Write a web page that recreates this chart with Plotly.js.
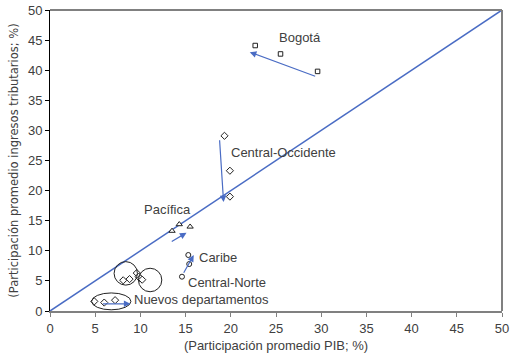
<!DOCTYPE html>
<html>
<head>
<meta charset="utf-8">
<script src="https://cdn.plot.ly/plotly-3.0.1.min.js"></script>
<style>html,body{margin:0;padding:0;background:#fff;}#chart{width:518px;height:359px;}</style>
</head>
<body>
<div id="chart"></div>
<script>
// Data
var bogotaX = [22.7, 25.5, 29.6];
var bogotaY = [44.1, 42.7, 39.8];
var centralOccX = [19.3, 19.9, 19.9];
var centralOccY = [29.1, 23.3, 19.0];
var pacificaX = [13.5, 14.3, 15.5];
var pacificaY = [13.3, 14.4, 14.0];
var caribeX = [15.3, 15.4];
var caribeY = [9.3, 7.8];
var centralNorteX = [14.6];
var centralNorteY = [5.7];
var nuevosX = [4.9, 6.0, 7.2];
var nuevosY = [1.6, 1.4, 1.8];
var otrosX = [8.1, 8.8, 9.6, 9.8, 10.0, 10.2];
var otrosY = [5.1, 5.3, 6.3, 5.7, 5.4, 5.2];
var diagX = [0, 50];
var diagY = [0, 50];
var tickVals = [0, 5, 10, 15, 20, 25, 30, 35, 40, 45, 50];

// Group labels
var labelText = ['Bogotá', 'Central-Occidente', 'Pacífica', 'Caribe', 'Central-Norte', 'Nuevos departamentos'];
var labelX = [27.6, 25.8, 13.0, 18.55, 19.6, 16.8];
var labelY = [45.5, 26.4, 16.9, 8.9, 4.75, 1.95];

// Arrows (tail -> head)
var arrowTailX = [29.5, 18.75, 13.3, 14.7, 5.7];
var arrowTailY = [38.9, 28.6, 11.4, 6.1, 1.2];
var arrowHeadX = [22.1, 19.2, 15.1, 15.9, 8.9];
var arrowHeadY = [43.0, 18.1, 13.0, 9.3, 1.2];

var xTitle = '(Participación promedio PIB; %)';
var yTitle = '(Participación promedio ingresos tributarios; %)';

var blue = '#4a6cc4';
var dark = '#222222';
var txt = '#404040';
var font = 'Liberation Sans, Arial, sans-serif';
var yFont = 'DejaVu Sans, sans-serif';

function mk(x, y, sym, size) {
  return {x: x, y: y, type: 'scatter', mode: 'markers', showlegend: false, hoverinfo: 'skip',
    marker: {symbol: sym, size: size, color: 'rgba(255,255,255,1)', line: {color: dark, width: 1}}};
}

var traces = [
  {x: diagX, y: diagY, type: 'scatter', mode: 'lines', showlegend: false, line: {color: blue, width: 1.5}},
  mk(bogotaX, bogotaY, 'square', 4.5),
  mk(centralOccX, centralOccY, 'diamond', 5.5),
  mk(pacificaX, pacificaY, 'triangle-up', 5.5),
  mk(caribeX, caribeY, 'circle', 5),
  mk(centralNorteX, centralNorteY, 'circle', 5),
  mk(nuevosX, nuevosY, 'diamond', 5.5),
  mk(otrosX, otrosY, 'diamond', 5.5)
];

var annotations = [];
for (var i = 0; i < labelText.length; i++) {
  annotations.push({x: labelX[i], y: labelY[i], xref: 'x', yref: 'y', text: labelText[i], showarrow: false,
    font: {family: font, size: 13, color: txt}, xanchor: 'center', yanchor: 'middle'});
}
for (var j = 0; j < arrowTailX.length; j++) {
  annotations.push({x: arrowHeadX[j], y: arrowHeadY[j], xref: 'x', yref: 'y', ax: arrowTailX[j], ay: arrowTailY[j],
    axref: 'x', ayref: 'y', text: '', showarrow: true, arrowhead: 2, arrowsize: 1.1, arrowwidth: 1.2,
    arrowcolor: blue, standoff: 0, startstandoff: 0});
}

var shapes = [
  {type: 'line', xref: 'paper', yref: 'paper', x0: 0, x1: 1, y0: 1, y1: 1, line: {color: '#808080', width: 2}},
  {type: 'line', xref: 'paper', yref: 'paper', x0: 1, x1: 1, y0: 0, y1: 1, line: {color: '#808080', width: 2}},
  {type: 'circle', xref: 'x', yref: 'y', x0: 7.09, x1: 9.67, y0: 4.3, y1: 8.2, line: {color: dark, width: 1}},
  {type: 'circle', xref: 'x', yref: 'y', x0: 9.78, x1: 12.37, y0: 3.2, y1: 7.1, line: {color: dark, width: 1}},
  {type: 'circle', xref: 'x', yref: 'y', x0: 4.6, x1: 8.95, y0: 0.2, y1: 3.0, line: {color: dark, width: 1}}
];

var layout = {
  width: 518, height: 359,
  margin: {l: 50, r: 16, t: 10, b: 48},
  paper_bgcolor: '#ffffff', plot_bgcolor: '#ffffff',
  font: {family: font, size: 13, color: txt},
  showlegend: false,
  xaxis: {range: [0, 50], tickvals: tickVals, showgrid: false, zeroline: false,
    showline: true, linecolor: '#808080', linewidth: 2, ticks: 'outside', ticklen: 4, tickcolor: '#808080',
    tickfont: {family: font, size: 13, color: txt},
    title: {text: xTitle, font: {family: font, size: 13, color: txt}, standoff: 6}},
  yaxis: {range: [0, 50], tickvals: tickVals, showgrid: false, zeroline: false,
    showline: true, linecolor: '#000000', linewidth: 1, ticks: 'outside', ticklen: 4, tickcolor: '#000000',
    tickfont: {family: font, size: 13, color: txt},
    title: {text: yTitle, font: {family: yFont, size: 11.5, color: txt}, standoff: 6}},
  annotations: annotations,
  shapes: shapes
};

Plotly.newPlot('chart', traces, layout, {displayModeBar: false, staticPlot: true});
</script>
</body>
</html>
